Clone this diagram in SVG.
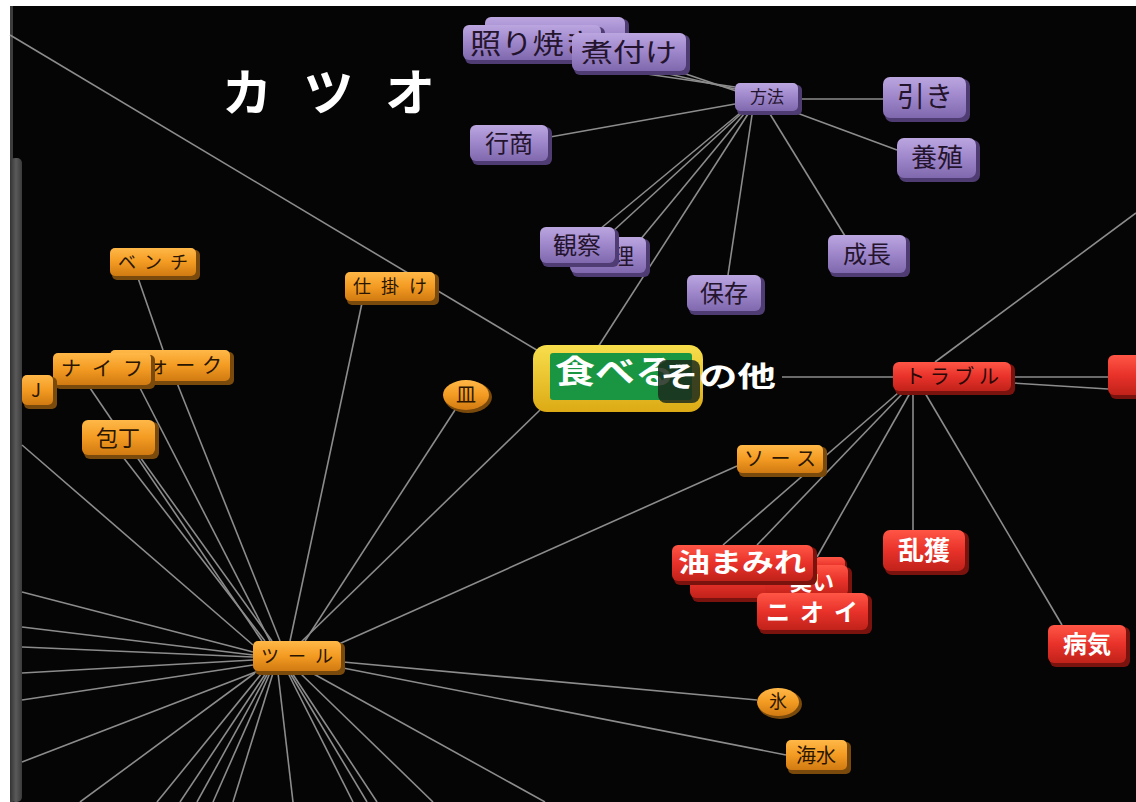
<svg xmlns="http://www.w3.org/2000/svg" width="1136" height="802" viewBox="0 0 1136 802">
<defs>
<linearGradient id="gp" x1="0" y1="0" x2="0" y2="1"><stop offset="0" stop-color="#bba6e0"/><stop offset="0.5" stop-color="#9e86ca"/><stop offset="1" stop-color="#8068ae"/></linearGradient>
<linearGradient id="go" x1="0" y1="0" x2="0" y2="1"><stop offset="0" stop-color="#ffb848"/><stop offset="0.5" stop-color="#f39b22"/><stop offset="1" stop-color="#d07a12"/></linearGradient>
<linearGradient id="gr" x1="0" y1="0" x2="0" y2="1"><stop offset="0" stop-color="#ff5646"/><stop offset="0.5" stop-color="#e8322a"/><stop offset="1" stop-color="#c0221a"/></linearGradient>
<linearGradient id="gy" x1="0" y1="0" x2="0" y2="1"><stop offset="0" stop-color="#f8de4c"/><stop offset="1" stop-color="#dcaa14"/></linearGradient>
<linearGradient id="gbar" x1="0" y1="0" x2="1" y2="0"><stop offset="0" stop-color="#333"/><stop offset="0.5" stop-color="#5a5a5a"/><stop offset="1" stop-color="#3a3a3a"/></linearGradient>
</defs>
<style>
text{font-family:"Noto Sans CJK JP","Noto Sans",sans-serif;text-anchor:middle}
.purple .bx{fill:url(#gp)} .purple .sh{fill:#4e3c72}
.orange .bx{fill:url(#go)} .orange .sh{fill:#7a4a0c}
.red .bx{fill:url(#gr)} .red .sh{fill:#7a120e}
.dk{fill:#24142e} .od{fill:#2a1600} .wt{fill:#ffffff;font-weight:bold}
#edges line{stroke:#8c8c8c;stroke-width:1.6;fill:none}
</style>
<rect x="0" y="0" width="1136" height="802" fill="#ffffff"/>
<rect x="10" y="6" width="1126" height="796" fill="#050505"/>
<rect x="10" y="6" width="3" height="796" fill="#3c3c3c"/>
<rect x="10" y="158" width="12" height="644" rx="5" fill="url(#gbar)"/>

<g id="edges">
<line x1="640" y1="73" x2="735" y2="87"/>
<line x1="660" y1="72" x2="735" y2="89"/>
<line x1="680" y1="72" x2="736" y2="91"/>
<line x1="550" y1="137" x2="735" y2="104"/>
<line x1="800" y1="99" x2="883" y2="99"/>
<line x1="797" y1="113" x2="897" y2="150"/>
<line x1="770" y1="114" x2="845" y2="236"/>
<line x1="752" y1="115" x2="728" y2="275"/>
<line x1="748" y1="114" x2="598" y2="347"/>
<line x1="744" y1="114" x2="640" y2="240"/>
<line x1="740" y1="113" x2="600" y2="229"/>
<line x1="742" y1="113" x2="612" y2="232"/>
<line x1="10" y1="35" x2="540" y2="352"/>
<line x1="540" y1="410" x2="298" y2="645"/>
<line x1="737" y1="466" x2="330" y2="648"/>
<line x1="782" y1="377" x2="893" y2="377"/>
<line x1="1013" y1="377" x2="1108" y2="377"/>
<line x1="1013" y1="383" x2="1108" y2="389"/>
<line x1="935" y1="362" x2="1136" y2="213"/>
<line x1="898" y1="393" x2="723" y2="545"/>
<line x1="903" y1="393" x2="757" y2="545"/>
<line x1="910" y1="393" x2="817" y2="557"/>
<line x1="913" y1="393" x2="913" y2="530"/>
<line x1="925" y1="393" x2="1062" y2="625"/>
<line x1="138" y1="278" x2="163" y2="350"/>
<line x1="90" y1="388" x2="262" y2="641"/>
<line x1="140" y1="388" x2="270" y2="641"/>
<line x1="177" y1="383" x2="280" y2="641"/>
<line x1="123" y1="457" x2="265" y2="641"/>
<line x1="140" y1="457" x2="272" y2="641"/>
<line x1="22" y1="445" x2="253" y2="645"/>
<line x1="362" y1="303" x2="290" y2="641"/>
<line x1="455" y1="410" x2="305" y2="641"/>
<line x1="22" y1="592" x2="253" y2="652"/>
<line x1="22" y1="627" x2="253" y2="655"/>
<line x1="22" y1="647" x2="253" y2="657"/>
<line x1="22" y1="673" x2="253" y2="660"/>
<line x1="22" y1="700" x2="253" y2="665"/>
<line x1="22" y1="762" x2="258" y2="671"/>
<line x1="80" y1="802" x2="255" y2="673"/>
<line x1="157" y1="802" x2="262" y2="673"/>
<line x1="180" y1="802" x2="266" y2="673"/>
<line x1="197" y1="802" x2="268" y2="673"/>
<line x1="213" y1="802" x2="270" y2="673"/>
<line x1="233" y1="802" x2="273" y2="673"/>
<line x1="293" y1="802" x2="278" y2="673"/>
<line x1="353" y1="802" x2="288" y2="673"/>
<line x1="367" y1="802" x2="290" y2="673"/>
<line x1="377" y1="802" x2="292" y2="673"/>
<line x1="433" y1="802" x2="300" y2="673"/>
<line x1="545" y1="802" x2="312" y2="673"/>
<line x1="343" y1="662" x2="757" y2="700"/>
<line x1="343" y1="668" x2="786" y2="755"/>
</g>

<text x="222" y="111" textLength="213" lengthAdjust="spacing" style="font-size:50px;font-weight:bold;fill:#fff;text-anchor:start">カツオ</text>

<g id="n-back" class="purple"><rect class="sh" x="487" y="19" width="142" height="38" rx="6"/><rect class="bx" x="485" y="17" width="140" height="36" rx="6"/></g>
<g id="n-teriyaki" class="purple"><rect class="sh" x="465" y="27" width="140" height="37" rx="6"/><rect class="bx" x="463" y="25" width="138" height="35" rx="6"/><text class="dk" x="470" y="54" textLength="125" lengthAdjust="spacingAndGlyphs" style="font-size:28px;text-anchor:start">照り焼き</text></g>
<g id="n-nitsuke" class="purple"><rect class="sh" x="574" y="35" width="116" height="40" rx="6"/><rect class="bx" x="572" y="33" width="114" height="38" rx="6"/><text class="dk" x="629" y="62" textLength="96" lengthAdjust="spacingAndGlyphs" style="font-size:26px">煮付け</text></g>
<g id="n-hoho" class="purple"><rect class="sh" x="737" y="85" width="65" height="30" rx="5"/><rect class="bx" x="735" y="83" width="63" height="28" rx="5"/><text class="dk" x="767" y="103" style="font-size:17px">方法</text></g>
<g id="n-hiki" class="purple"><rect class="sh" x="885" y="79" width="85" height="43" rx="7"/><rect class="bx" x="883" y="77" width="83" height="41" rx="7"/><text class="dk" x="925" y="107" style="font-size:28px">引き</text></g>
<g id="n-yoshoku" class="purple"><rect class="sh" x="899" y="140" width="81" height="42" rx="7"/><rect class="bx" x="897" y="138" width="79" height="40" rx="7"/><text class="dk" x="937" y="167" style="font-size:26px">養殖</text></g>
<g id="n-gyosho" class="purple"><rect class="sh" x="472" y="127" width="80" height="38" rx="6"/><rect class="bx" x="470" y="125" width="78" height="36" rx="6"/><text class="dk" x="509" y="152" style="font-size:24px">行商</text></g>
<g id="n-ryori" class="purple"><rect class="sh" x="572" y="239" width="78" height="38" rx="6"/><rect class="bx" x="570" y="237" width="76" height="36" rx="6"/><text class="dk" x="612" y="264" style="font-size:22px">料理</text></g>
<g id="n-kansatsu" class="purple"><rect class="sh" x="542" y="229" width="77" height="38" rx="6"/><rect class="bx" x="540" y="227" width="75" height="36" rx="6"/><text class="dk" x="577" y="254" style="font-size:24px">観察</text></g>
<g id="n-hozon" class="purple"><rect class="sh" x="689" y="277" width="76" height="38" rx="6"/><rect class="bx" x="687" y="275" width="74" height="36" rx="6"/><text class="dk" x="724" y="302" style="font-size:24px">保存</text></g>
<g id="n-seicho" class="purple"><rect class="sh" x="830" y="237" width="80" height="40" rx="6"/><rect class="bx" x="828" y="235" width="78" height="38" rx="6"/><text class="dk" x="867" y="263" style="font-size:24px">成長</text></g>

<g id="n-taberu"><rect x="533" y="345" width="170" height="67" rx="14" fill="url(#gy)"/><rect x="550" y="353" width="142" height="47" rx="3" fill="#1a9642"/><text x="555" y="383" textLength="120" lengthAdjust="spacingAndGlyphs" style="font-size:32px;fill:#fff;font-weight:bold;text-anchor:start">食べる</text><rect x="658" y="360" width="42" height="43" rx="8" fill="#1c2a1c" opacity="0.85"/><text x="660" y="387" textLength="116" lengthAdjust="spacingAndGlyphs" style="font-size:28px;fill:#fff;font-weight:bold;text-anchor:start">その他</text></g>

<g id="n-trouble" class="red"><rect class="sh" x="895" y="364" width="120" height="31" rx="6"/><rect class="bx" x="893" y="362" width="118" height="29" rx="6"/><text x="952" y="384" textLength="94" lengthAdjust="spacing" style="font-size:20px;fill:#2a0808">トラブル</text></g>
<g id="n-rightred" class="red"><rect class="sh" x="1110" y="357" width="40" height="42" rx="6"/><rect class="bx" x="1108" y="355" width="40" height="40" rx="6"/></g>
<g id="n-rankaku" class="red"><rect class="sh" x="885" y="532" width="84" height="43" rx="7"/><rect class="bx" x="883" y="530" width="82" height="41" rx="7"/><text class="wt" x="924" y="560" style="font-size:26px">乱獲</text></g>
<g id="n-redback1" class="red"><rect class="sh" x="692" y="567" width="110" height="35" rx="6"/><rect class="bx" x="690" y="565" width="108" height="33" rx="6"/></g>
<g id="n-redback2" class="red"><rect class="sh" x="817" y="559" width="30" height="20" rx="5"/><rect class="bx" x="815" y="557" width="30" height="18" rx="5"/></g>
<g id="n-kusai" class="red"><rect class="sh" x="767" y="567" width="85" height="33" rx="6"/><rect class="bx" x="765" y="565" width="83" height="31" rx="6"/><text class="wt" x="812" y="590" style="font-size:22px">臭い</text></g>
<g id="n-abura" class="red"><rect class="sh" x="674" y="547" width="143" height="38" rx="6"/><rect class="bx" x="672" y="545" width="141" height="36" rx="6"/><text class="wt" x="742" y="572" textLength="128" lengthAdjust="spacingAndGlyphs" style="font-size:26px">油まみれ</text></g>
<g id="n-nioi" class="red"><rect class="sh" x="759" y="595" width="113" height="39" rx="6"/><rect class="bx" x="757" y="593" width="111" height="37" rx="6"/><text class="wt" x="812" y="621" textLength="92" lengthAdjust="spacing" style="font-size:24px">ニオイ</text></g>
<g id="n-byoki" class="red"><rect class="sh" x="1050" y="627" width="80" height="40" rx="6"/><rect class="bx" x="1048" y="625" width="78" height="38" rx="6"/><text class="wt" x="1087" y="653" style="font-size:24px">病気</text></g>

<g id="n-sauce" class="orange"><rect class="sh" x="739" y="447" width="88" height="30" rx="5"/><rect class="bx" x="737" y="445" width="86" height="28" rx="5"/><text class="od" x="780" y="466" textLength="72" lengthAdjust="spacing" style="font-size:20px">ソース</text></g>
<g id="n-shikake" class="orange"><rect class="sh" x="347" y="274" width="92" height="31" rx="5"/><rect class="bx" x="345" y="272" width="90" height="29" rx="5"/><text class="od" x="390" y="293" textLength="74" lengthAdjust="spacing" style="font-size:18px">仕掛け</text></g>
<g id="n-sara" class="orange"><ellipse class="sh" cx="468" cy="397" rx="24" ry="16"/><ellipse class="bx" cx="466" cy="395" rx="23" ry="15"/><text class="od" x="466" y="402" style="font-size:20px">皿</text></g>
<g id="n-bench" class="orange"><rect class="sh" x="112" y="250" width="88" height="30" rx="5"/><rect class="bx" x="110" y="248" width="86" height="28" rx="5"/><text class="od" x="153" y="269" textLength="70" lengthAdjust="spacing" style="font-size:18px">ベンチ</text></g>
<g id="n-fork" class="orange"><rect class="sh" x="112" y="352" width="122" height="33" rx="5"/><rect class="bx" x="110" y="350" width="120" height="31" rx="5"/><text class="od" x="172" y="373" textLength="100" lengthAdjust="spacing" style="font-size:20px">フォーク</text></g>
<g id="n-knife" class="orange"><rect class="sh" x="55" y="355" width="100" height="34" rx="5"/><rect class="bx" x="53" y="353" width="98" height="32" rx="5"/><text class="od" x="102" y="376" textLength="82" lengthAdjust="spacing" style="font-size:20px">ナイフ</text></g>
<g id="n-j" class="orange"><rect class="sh" x="24" y="377" width="33" height="32" rx="5"/><rect class="bx" x="22" y="375" width="31" height="30" rx="5"/><text class="od" x="36" y="397" style="font-size:18px">J</text></g>
<g id="n-hocho" class="orange"><rect class="sh" x="84" y="422" width="75" height="37" rx="6"/><rect class="bx" x="82" y="420" width="73" height="35" rx="6"/><text class="od" x="118" y="446" style="font-size:22px">包丁</text></g>
<g id="n-tool" class="orange"><rect class="sh" x="255" y="643" width="90" height="32" rx="5"/><rect class="bx" x="253" y="641" width="88" height="30" rx="5"/><text class="od" x="297" y="663" textLength="72" lengthAdjust="spacing" style="font-size:18px">ツール</text></g>
<g id="n-kori" class="orange"><ellipse class="sh" cx="780" cy="704" rx="22" ry="15"/><ellipse class="bx" cx="778" cy="702" rx="21" ry="14"/><text class="od" x="778" y="708" style="font-size:18px">氷</text></g>
<g id="n-kaisui" class="orange"><rect class="sh" x="788" y="742" width="63" height="32" rx="5"/><rect class="bx" x="786" y="740" width="61" height="30" rx="5"/><text class="od" x="816" y="763" style="font-size:20px">海水</text></g>
</svg>
